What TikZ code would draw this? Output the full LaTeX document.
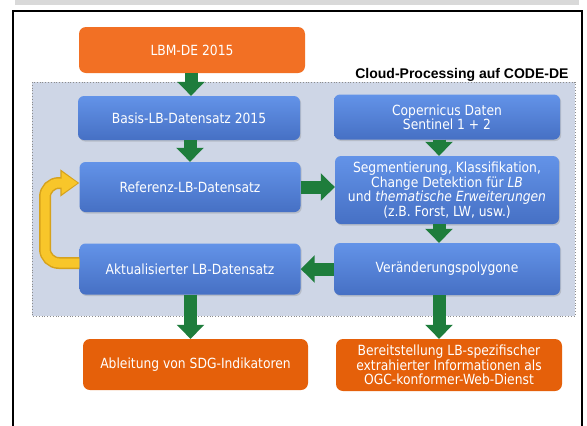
\documentclass[tikz,border=0pt]{standalone}
\usepackage{fontspec}
\setmainfont[FakeStretch=0.88]{DejaVu Sans}
\newfontfamily\labfont{Liberation Sans}
\usetikzlibrary{arrows.meta,shadows,calc}
\definecolor{bandgray}{HTML}{D9D9D9}
\definecolor{regionfill}{HTML}{CED6E6}
\definecolor{regionline}{HTML}{8C8C8C}
\definecolor{bluetop}{HTML}{6393E8}
\definecolor{bluebot}{HTML}{4670C4}
\definecolor{orangetop}{HTML}{F27024}
\definecolor{orangebot}{HTML}{E5600A}
\definecolor{arrgreen}{HTML}{1E7D3C}
\definecolor{loopyellow}{HTML}{F8C62A}
\definecolor{loopedge}{HTML}{D6A21C}
\tikzset{
  boxtext/.style={text=white, align=center, inner sep=0pt, font=\fontsize{14}{14}\selectfont},
  bluebox/.style={boxtext, rounded corners=6pt, top color=bluetop, bottom color=bluebot,
    drop shadow={opacity=.3, shadow xshift=1.2pt, shadow yshift=-1.5pt}},
  orangebox/.style={boxtext, rounded corners=7pt},
  greenarrow/.style={draw=arrgreen, line width=13pt, -{Triangle[width=27pt,length=14pt]}},
}
\begin{document}
\begin{tikzpicture}[x=1pt,y=-1pt]
\useasboundingbox (0,0) rectangle (587,426);
\fill[white] (0,0) rectangle (587,426);
% top gray band
\fill[bandgray] (15,0) rectangle (579,5);
% frame
\draw[black, line width=1.5pt] (13,440) -- (13,11) -- (582,11) -- (582,440);
% cloud region
\draw[regionline, fill=regionfill, dotted, line width=0.8pt] (32,82) rectangle (575,316);
\node[anchor=base east, font=\labfont\bfseries\fontsize{14}{14}\selectfont] (cloud) at (572,78) {Cloud-Processing auf CODE-DE};

% nodes
\node[orangebox, fill=orangetop, minimum width=226pt, minimum height=46pt] (lbm) at (192,50) {LBM-DE 2015};
\node[bluebox, minimum width=222pt, minimum height=44pt] (basis) at (189,118) {Basis-LB-Datensatz 2015};
\node[bluebox, minimum width=226pt, minimum height=45pt] (coper) at (447,117) {Copernicus Daten\\Sentinel 1 + 2};
\node[bluebox, minimum width=221pt, minimum height=50pt] (ref) at (190,187) {Referenz-LB-Datensatz};
\node[bluebox, minimum width=224pt, minimum height=68pt, font=\fontsize{14}{13.5}\selectfont] (seg) at (447,190)
  {Segmentierung, Klassifikation,\\Change Detektion für \textit{LB}\\und \textit{thematische Erweiterungen}\\(z.B. Forst, LW, usw.)};
\node[bluebox, minimum width=221pt, minimum height=51pt] (akt) at (190,269) {Aktualisierter LB-Datensatz};
\node[bluebox, minimum width=226pt, minimum height=52pt] (ver) at (447,269) {Veränderungspolygone};
\node[orangebox, fill=orangebot, minimum width=225pt, minimum height=51pt] (abl) at (195.5,364.5) {Ableitung von SDG-Indikatoren};
\node[orangebox, fill=orangebot, minimum width=226pt, minimum height=52pt, font=\fontsize{14}{14.5}\selectfont] (ber) at (449,365)
  {Bereitstellung LB-spezifischer\\extrahierter Informationen als\\OGC-konformer-Web-Dienst};

% green arrows
\draw[greenarrow] ([xshift=-1pt]lbm.south) -- ([xshift=-1pt]lbm.south |- basis.north);
\draw[greenarrow] ([xshift=1pt]basis.south) -- ([xshift=1pt]basis.south |- ref.north);
\draw[greenarrow] ([xshift=-8pt]coper.south) -- ([xshift=-8pt]coper.south |- seg.north);
\draw[greenarrow] (ref.east) -- (ref.east -| seg.west);
\draw[greenarrow] ([xshift=-8pt]seg.south) -- ([xshift=-8pt]seg.south |- ver.north);
\draw[greenarrow] (ver.west) -- (ver.west -| akt.east);
\draw[greenarrow] ([xshift=0.5pt]akt.south) -- ([xshift=0.5pt]akt.south |- abl.north);
\draw[greenarrow] ([xshift=-8pt]ver.south) -- ([xshift=-8pt]ver.south |- ber.north);

% yellow feedback loop
\coordinate (loopcorner) at (45,183);
\draw[loopedge, line width=12pt, rounded corners=14pt, -{Triangle[width=26pt,length=19pt]}]
  ([yshift=6pt]akt.west) -| (loopcorner) -- ([yshift=4pt]ref.west);
\draw[loopyellow, line width=9pt, rounded corners=14pt, shorten >=1.6pt, -{Triangle[width=21pt,length=16pt]}]
  ([yshift=6pt]akt.west) -| (loopcorner) -- ([yshift=4pt]ref.west);
\end{tikzpicture}
\end{document}
